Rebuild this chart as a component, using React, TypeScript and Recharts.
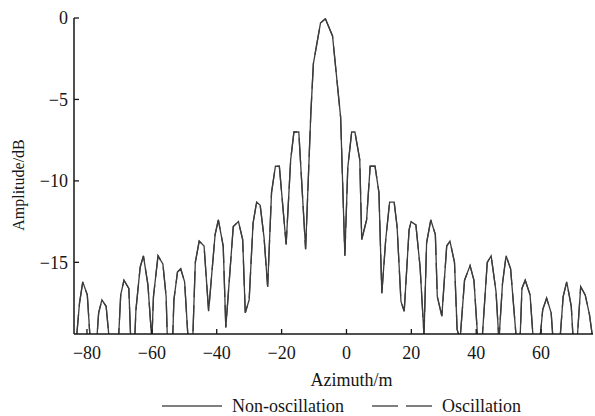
import { LineChart, Line, XAxis, YAxis, Legend } from 'recharts'

// azimuth (m) of each vertex
const azimuth = [
  -83.3, -82.3, -81.3, -79.9, -79.0, -77.0, -76.4, -75.4, -74.1, -73.1,
  -70.3, -69.6, -68.6, -67.1, -66.5, -65.3, -64.9, -63.6, -62.6, -61.2,
  -60.0, -59.5, -58.1, -56.6, -55.6, -55.2, -53.6, -53.2, -52.1, -51.1,
  -49.9, -48.8, -47.4, -46.6, -45.4, -43.9, -42.5, -40.5, -39.5, -38.0,
  -37.2, -34.9, -33.3, -32.0, -31.2, -30.0, -28.8, -27.7, -26.6, -25.4,
  -24.3, -23.1, -21.9, -20.7, -18.6, -17.2, -16.2, -14.7, -12.6, -11.0,
  -10.2, -8.0, -6.5, -4.3, -1.8, -0.5, 0.4, 1.6, 2.6, 4.1,
  4.7, 6.2, 7.3, 8.8, 10.0, 10.9, 12.1, 13.3, 14.7, 15.6,
  16.8, 17.8, 19.3, 19.9, 21.4, 22.7, 23.9, 24.7, 26.0, 27.4,
  28.0, 29.4, 30.9, 31.9, 33.3, 34.1, 35.0, 36.4, 38.1, 39.3,
  40.5, 41.8, 43.4, 44.6, 46.1, 47.0, 48.1, 49.2, 50.6, 52.4,
  53.5, 54.1, 55.1, 56.6, 57.6, 59.6, 60.5, 61.7, 63.1, 63.7,
  65.8, 66.8, 67.9, 69.3, 69.9, 71.1, 72.2, 73.6, 74.9, 76.0,
]

// amplitude (dB); troughs below the frame are given as -19.8 and clipped
const nonOscillation = [
  -19.8, -17.5, -16.2, -17.0, -19.8, -19.8, -18.1, -17.3, -17.7, -19.8,
  -19.8, -17.0, -16.1, -16.6, -19.8, -19.8, -17.9, -15.3, -14.6, -16.4,
  -19.8, -17.1, -14.6, -15.1, -17.1, -19.8, -19.8, -17.3, -15.6, -15.4,
  -16.2, -19.8, -19.8, -15.0, -13.7, -14.0, -18.0, -13.3, -12.4, -14.0,
  -19.0, -12.8, -12.5, -13.6, -18.1, -17.3, -12.6, -11.3, -11.5, -13.5,
  -16.5, -10.7, -9.1, -9.1, -13.9, -8.7, -7.0, -7.0, -14.2, -5.9,
  -2.8, -0.3, -0.05, -1.1, -6.1, -14.6, -9.2, -7.0, -7.0, -8.7,
  -13.6, -12.4, -9.1, -9.1, -10.7, -16.9, -13.6, -11.3, -11.3, -12.8,
  -17.4, -18.0, -13.0, -12.5, -12.7, -15.3, -19.5, -13.8, -12.4, -13.3,
  -17.1, -18.3, -14.0, -13.7, -15.0, -19.1, -19.8, -16.1, -15.2, -16.1,
  -19.8, -19.8, -15.0, -14.6, -16.8, -19.8, -16.3, -14.6, -15.4, -19.8,
  -19.8, -16.6, -16.1, -17.0, -19.8, -19.8, -17.9, -17.2, -18.1, -19.8,
  -19.8, -17.1, -16.2, -17.7, -19.8, -19.8, -16.5, -17.0, -18.2, -19.8,
]

// the oscillation trace lies on top of the other one in the figure
const oscillation = [...nonOscillation]

const xTicks = [-80, -60, -40, -20, 0, 20, 40, 60]
const yTicks = [0, -5, -10, -15]

const data = azimuth.map((x, i) => ({ x, non: nonOscillation[i], osc: oscillation[i] }))

const FONT = '"Liberation Serif", "Times New Roman", serif'
const INK = '#161616'

const fmt = (v: number) => (v < 0 ? '\u2212' + Math.abs(v) : String(v))

function XTick({ x, y, payload }: any) {
  const axisY = y - 12
  return (
    <g>
      <line x1={x} y1={axisY} x2={x} y2={axisY - 5} stroke={INK} strokeWidth={1.3} />
      <text x={x} y={y} dy="0.71em" textAnchor="middle" fontSize={18} fontFamily={FONT} fill={INK}>
        {fmt(payload.value)}
      </text>
    </g>
  )
}

function YTick({ x, y, payload }: any) {
  const axisX = x + 6
  return (
    <g>
      <line x1={axisX} y1={y} x2={axisX + 5} y2={y} stroke={INK} strokeWidth={1.3} />
      <text x={x} y={y} dy="0.355em" textAnchor="end" fontSize={18} fontFamily={FONT} fill={INK}>
        {fmt(payload.value)}
      </text>
    </g>
  )
}

function LegendContent({ payload }: any) {
  return (
    <div
      style={{
        display: 'flex',
        justifyContent: 'center',
        alignItems: 'center',
        paddingLeft: 88,
        height: 24,
        fontFamily: FONT,
        fontSize: 18,
        color: INK,
      }}
    >
      {(payload || []).map((entry: any, i: number) => (
        <span key={entry.value} style={{ display: 'inline-flex', alignItems: 'center', marginLeft: i ? 28 : 0 }}>
          <svg width={60} height={10}>
            <line
              x1={0}
              y1={5}
              x2={60}
              y2={5}
              stroke="#555"
              strokeWidth={1.5}
              strokeDasharray={entry.payload?.strokeDasharray}
            />
          </svg>
          <span style={{ marginLeft: 10 }}>{entry.value}</span>
        </span>
      ))}
    </div>
  )
}

export default function App() {
  return (
    <div style={{ position: 'absolute', left: 0, top: 0, background: '#fff' }}>
      <LineChart width={595} height={416} data={data} margin={{ top: 18, right: 2, left: 0, bottom: 0 }}>
        <XAxis
          type="number"
          dataKey="x"
          domain={[-84, 76]}
          ticks={xTicks}
          allowDataOverflow
          height={58}
          stroke={INK}
          strokeWidth={1.5}
          tickLine={false}
          tickSize={0}
          tickMargin={12}
          tick={<XTick />}
          label={{
            value: 'Azimuth/m',
            position: 'insideBottom',
            offset: 6,
            dx: 18,
            style: { fontSize: 18, fontFamily: FONT, fill: INK },
          }}
        />
        <YAxis
          type="number"
          domain={[-19.4, 0]}
          ticks={yTicks}
          allowDataOverflow
          width={74}
          stroke={INK}
          strokeWidth={1.5}
          tickLine={false}
          tickSize={0}
          tickMargin={6}
          tick={<YTick />}
          label={{
            value: 'Amplitude/dB',
            angle: -90,
            position: 'insideLeft',
            offset: 18,
            dy: 9,
            style: { fontSize: 16, fontFamily: FONT, fill: INK, textAnchor: 'middle' },
          }}
        />
        <Legend
          verticalAlign="bottom"
          content={<LegendContent />}
          wrapperStyle={{ left: 0, bottom: -2, width: 595 }}
        />
        <Line
          dataKey="non"
          name="Non-oscillation"
          type="linear"
          stroke="#3c3c3c"
          strokeWidth={1.3}
          dot={false}
          activeDot={false}
          isAnimationActive={false}
        />
        <Line
          dataKey="osc"
          name="Oscillation"
          type="linear"
          stroke="#3c3c3c"
          strokeWidth={1.3}
          strokeDasharray="26 8"
          dot={false}
          activeDot={false}
          isAnimationActive={false}
        />
      </LineChart>
    </div>
  )
}
